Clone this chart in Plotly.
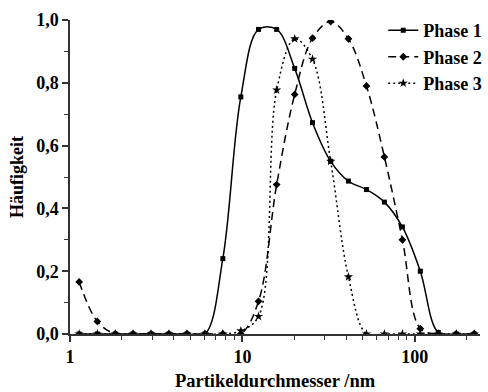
import plotly.graph_objects as go

# Particle diameter bins (nm)
sizes = [1.13, 1.44, 1.83, 2.32, 2.95, 3.75, 4.77, 6.06, 7.70, 9.79, 12.4, 15.8,
         20.1, 25.5, 32.5, 41.2, 52.4, 66.6, 84.7, 107.6, 136.8, 173.9, 221.0]

phase1 = [0, 0, 0, 0, 0, 0, 0, 0, 0.24, 0.755, 0.97, 0.97, 0.846, 0.673, 0.55,
          0.487, 0.46, 0.42, 0.341, 0.2, 0.005, 0, 0]
phase2 = [0.166, 0.04, 0, 0, 0, 0, 0, 0, 0, 0, 0.104, 0.476, 0.763, 0.942, 0.995,
          0.94, 0.79, 0.564, 0.3, 0.017, 0, 0, 0]
phase3 = [0, 0, 0, 0, 0, 0, 0, 0, 0, 0.01, 0.056, 0.777, 0.94, 0.875, 0.55,
          0.182, 0, 0, 0, 0, 0, 0, 0]

names = ["Phase 1", "Phase 2", "Phase 3"]
x_ticks = [1, 10, 100]
x_ticktext = ["1", "10", "100"]
x_minor = [2, 3, 4, 5, 6, 7, 8, 9, 20, 30, 40, 50, 60, 70, 80, 90, 200]

FONT = "Liberation Serif"
styles = [
    dict(dash="solid", symbol="square", size=5),
    dict(dash="8px,5px", symbol="diamond", size=6),
    dict(dash="2px,3px", symbol="star", size=7),
]

fig = go.Figure()
for name, vals, st in zip(names, [phase1, phase2, phase3], styles):
    fig.add_trace(go.Scatter(
        x=sizes, y=vals, name=name, mode="lines+markers",
        line=dict(color="black", width=1.5, dash=st["dash"], shape="spline", smoothing=1.0),
        marker=dict(color="black", symbol=st["symbol"], size=st["size"]),
        cliponaxis=True,
    ))

fig.update_layout(
    width=488, height=392,
    margin=dict(l=70, r=1, t=20, b=58),
    paper_bgcolor="white", plot_bgcolor="white",
    separators=",.",
    font=dict(family=FONT, size=18, color="black"),
    showlegend=True,
    legend=dict(
        x=0.764, y=1.025, xanchor="left", yanchor="top",
        bgcolor="rgba(0,0,0,0)", borderwidth=0,
        font=dict(family=FONT, size=18, color="black", weight="bold"),
        tracegroupgap=0, itemwidth=30,
    ),
)

fig.update_xaxes(
    type="log", range=[0, 2.378],
    tickvals=x_ticks, ticktext=x_ticktext,
    ticks="outside", ticklen=6, tickwidth=1.5, tickcolor="#333",
    showline=True, linecolor="#333", linewidth=1.5,
    showgrid=False, zeroline=False,
    tickfont=dict(family=FONT, size=18, weight="bold"),
    minor=dict(tickvals=x_minor, ticks="outside", ticklen=4, tickwidth=1.2, tickcolor="#333", showgrid=False),
    title=dict(text="Partikeldurchmesser /nm", font=dict(family=FONT, size=18.5, weight="bold"), standoff=8),
)
fig.update_yaxes(
    range=[0, 1.0],
    tickvals=[0, 0.2, 0.4, 0.6, 0.8, 1.0], tickformat=".1f",
    ticks="outside", ticklen=6, tickwidth=1.5, tickcolor="#333",
    showline=True, linecolor="#333", linewidth=1.5,
    showgrid=False, zeroline=False,
    tickfont=dict(family=FONT, size=18, weight="bold"),
    minor=dict(tickvals=[0.1, 0.3, 0.5, 0.7, 0.9], ticks="outside", ticklen=4, tickwidth=1.2, tickcolor="#333", showgrid=False),
    title=dict(text="Häufigkeit", font=dict(family=FONT, size=18, weight="bold"), standoff=8),
)

fig.write_html("out.html")
